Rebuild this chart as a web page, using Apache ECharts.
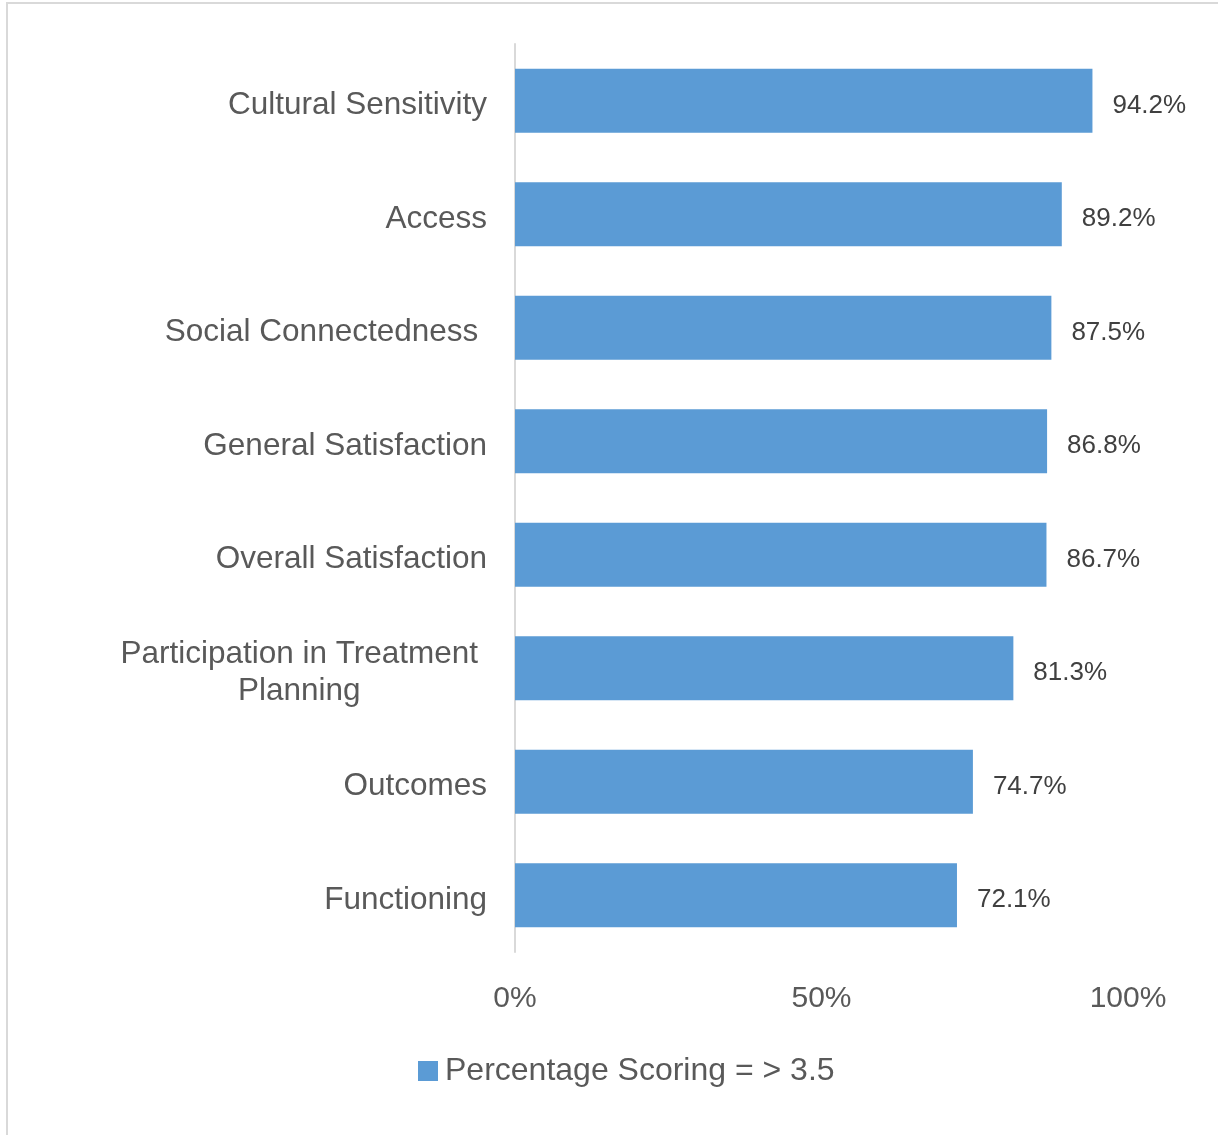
<!DOCTYPE html>
<html>
<head>
<meta charset="utf-8">
<script src="https://cdn.jsdelivr.net/npm/echarts@6/dist/echarts.min.js"></script>
<style>
html,body{margin:0;padding:0;background:#fff;}
#chart{width:1218px;height:1135px;}
</style>
</head>
<body>
<div id="chart"></div>
<script>
const categories = [
  "Cultural Sensitivity",
  "Access",
  "Social Connectedness ",
  "General Satisfaction",
  "Overall Satisfaction",
  "Participation in Treatment Planning",
  "Outcomes",
  "Functioning"
];
const values = [94.2, 89.2, 87.5, 86.8, 86.7, 81.3, 74.7, 72.1];
const xTicks = [0, 50, 100];
const seriesName = "Percentage Scoring = > 3.5";

const font = '"Liberation Sans", Arial, sans-serif';
const catSize = 31.5;
const cv = document.createElement('canvas').getContext('2d');
cv.font = catSize + 'px ' + font;
const line1 = 'Participation in Treatment';
const wrapW = Math.ceil(cv.measureText(line1).width);

const chart = echarts.init(document.getElementById('chart'), null, {renderer: 'canvas'});

chart.setOption({
  backgroundColor: '#ffffff',
  animation: false,
  graphic: [{
    type: 'rect',
    shape: {x: 7, y: 3, width: 1400, height: 1400},
    style: {fill: 'none', stroke: '#d9d9d9', lineWidth: 2},
    silent: true, z: -1
  }],
  legend: {
    data: [seriesName],
    bottom: 43,
    left: 413,
    itemWidth: 20,
    itemHeight: 20,
    icon: 'rect',
    textStyle: {fontFamily: font, fontSize: 32, color: '#595959', padding: [0, 0, 0, 2]}
  },
  grid: {left: 515, right: 90, top: 44, height: 908, containLabel: false},
  xAxis: {
    type: 'value',
    min: xTicks[0],
    max: xTicks[xTicks.length - 1],
    interval: 50,
    axisLine: {show: false},
    axisTick: {show: false},
    splitLine: {show: false},
    axisLabel: {
      formatter: '{value}%',
      fontFamily: font, fontSize: 30, color: '#595959', margin: 32
    }
  },
  yAxis: {
    type: 'category',
    data: categories,
    inverse: true,
    axisLine: {show: true, lineStyle: {color: '#d9d9d9', width: 2}},
    axisTick: {show: false},
    axisLabel: {
      margin: 28,
      padding: [10, 0, 0, 0],
      fontFamily: font, fontSize: catSize, color: '#595959',
      formatter: function (v) {
        if (v.indexOf('Participation') === 0) {
          return '{w|' + line1 + '}{s| }\n{w|Planning}{s| }';
        }
        return v;
      },
      rich: {
        w: {width: wrapW, align: 'center', fontFamily: font, fontSize: catSize, color: '#595959', lineHeight: 37},
        s: {fontFamily: font, fontSize: catSize, color: '#595959', lineHeight: 37}
      }
    }
  },
  series: [{
    name: seriesName,
    type: 'bar',
    data: values,
    barCategoryGap: '43.6%',
    itemStyle: {color: '#5b9bd5'},
    label: {
      show: true,
      position: 'right',
      distance: 20,
      offset: [0, 5],
      formatter: '{c}%',
      fontFamily: font, fontSize: 26, color: '#404040'
    }
  }]
});
</script>
</body>
</html>
